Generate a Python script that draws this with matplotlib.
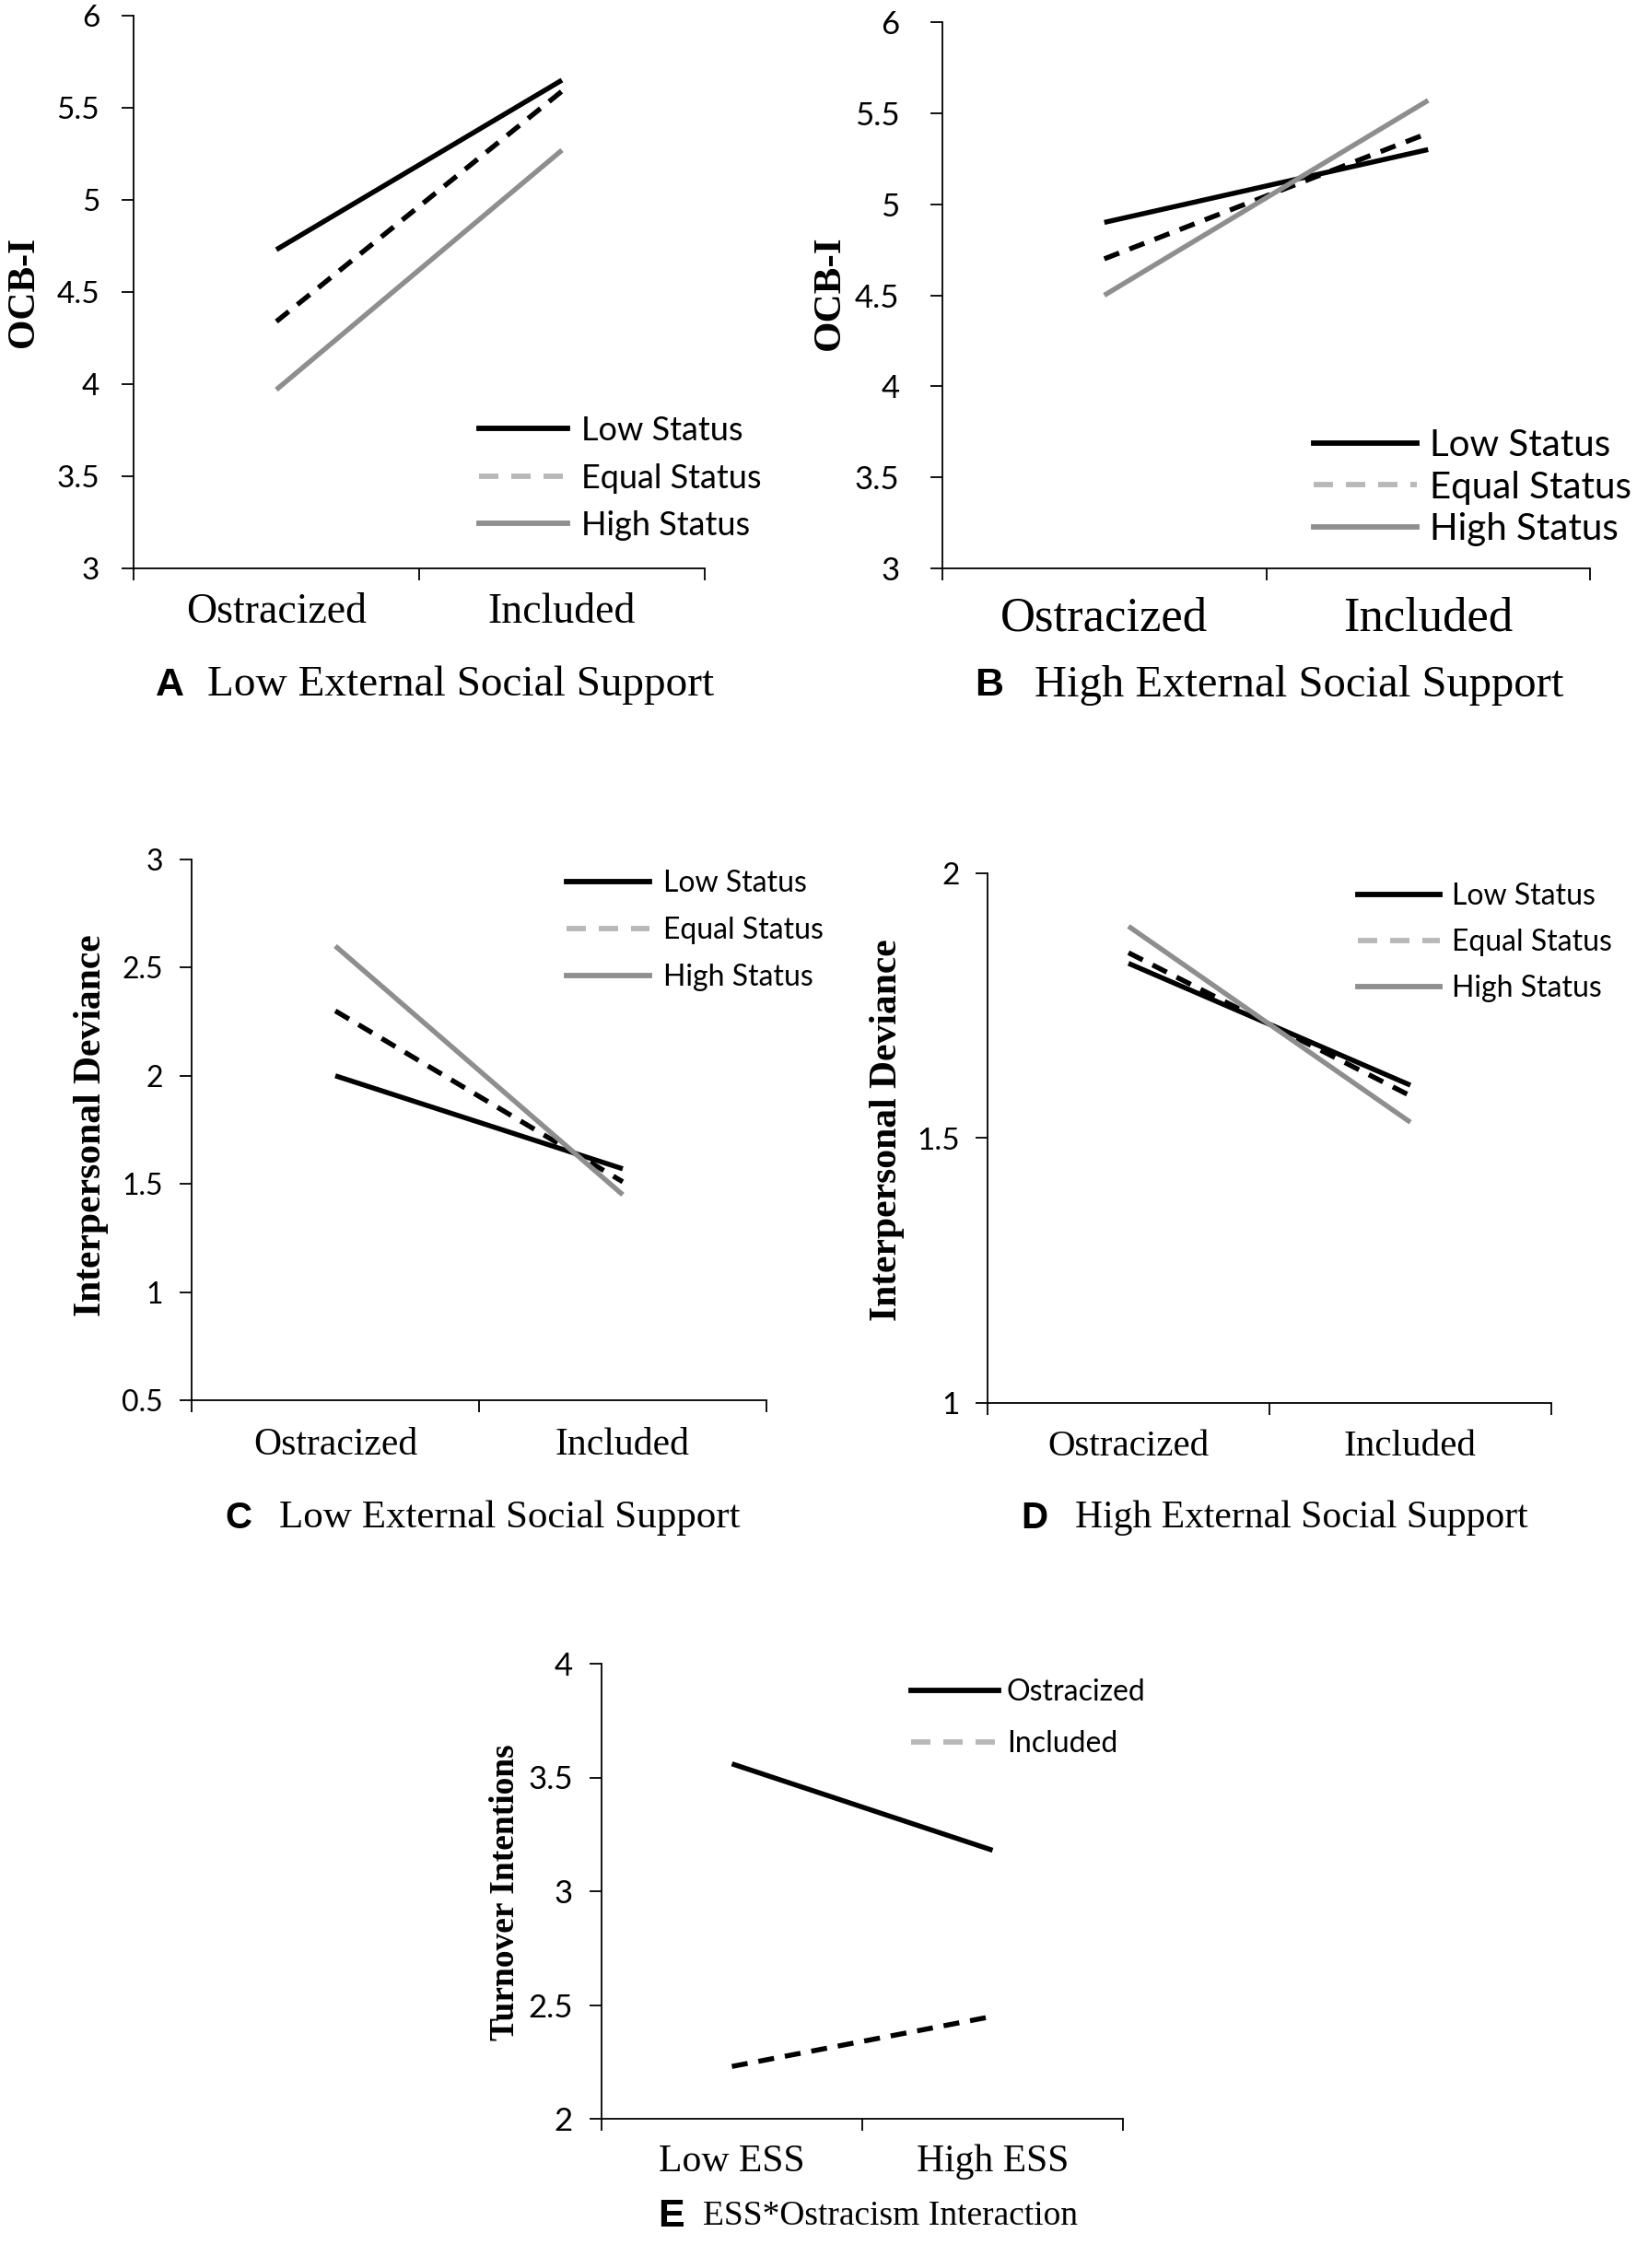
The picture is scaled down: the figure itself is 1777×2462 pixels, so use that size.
import matplotlib
matplotlib.use("Agg")
import matplotlib.pyplot as plt
from matplotlib.lines import Line2D

# values
cond_labels = ['Ostracized', 'Included']
ess_labels = ['Low ESS', 'High ESS']
status_names = ['Low Status', 'Equal Status', 'High Status']
ostr_names = ['Ostracized', 'Included']

a_low = [4.73, 5.65]
a_equal = [4.34, 5.59]
a_high = [3.97, 5.27]

b_low = [4.90, 5.30]
b_equal = [4.70, 5.39]
b_high = [4.50, 5.57]

c_low = [2.00, 1.57]
c_equal = [2.30, 1.51]
c_high = [2.60, 1.45]

d_low = [1.83, 1.60]
d_equal = [1.85, 1.58]
d_high = [1.90, 1.53]

e_ostracized = [3.56, 3.18]
e_included = [2.23, 2.45]

W, H = 1777, 2462
fig = plt.figure(figsize=(W / 100, H / 100), dpi=100)

SERIF = 'Liberation Serif'
SANS = 'Lato'
ARIAL = 'Liberation Sans'
GRAY = '#8e8e8e'
LIGHT = '#b8b8b8'
LW = 3.9


def fx(px):
    return px / W


def fy(py):
    return 1 - py / H


# plot styles and legend styles (legend shows the dashed line in light grey)
line_styles = [dict(color='black', ls='-'),
               dict(color='black', ls=(0, (3.2, 2.2))),
               dict(color=GRAY, ls='-')]
legend_styles = [dict(color='black', ls='-'),
                 dict(color=LIGHT, ls=(0, (3.6, 2.4))),
                 dict(color=GRAY, ls='-')]


def panel(box, xlabels, series, names, ylim, yticks, ylabel, ylab_xy,
          sizes, pads, legend, letter, title, title_xy):
    l, r, t, b = box
    ax = fig.add_axes([fx(l), fy(b), fx(r - l), (b - t) / H])
    x = range(len(xlabels))
    for vals, st in zip(series, line_styles):
        ax.plot(x, vals, lw=LW, solid_capstyle='butt', dash_capstyle='butt', **st)
    ax.set_xlim(-0.5, 1.5)
    ax.set_ylim(*ylim)
    ax.set_yticks(yticks)
    ax.set_yticklabels([f'{v:g}' for v in yticks], fontfamily=SANS,
                       fontsize=sizes['ytick'])
    ax.set_xticks([-0.5, 0.5, 1.5])
    ax.set_xticklabels([])
    ax.set_xticks([0, 1], minor=True)
    ax.set_xticklabels(xlabels, minor=True, fontfamily=SERIF,
                       fontsize=sizes['xtick'])
    ax.tick_params(axis='x', which='minor', length=0, pad=pads['x'])
    ax.tick_params(axis='x', which='major', length=9.5, width=1.3, direction='out')
    ax.tick_params(axis='y', length=9.5, width=1.3, direction='out', pad=pads['y'])
    for s in ['top', 'right']:
        ax.spines[s].set_visible(False)
    for s in ['left', 'bottom']:
        ax.spines[s].set_linewidth(1.3)
    ax.set_ylabel(ylabel, fontfamily=SERIF, fontweight='bold',
                  fontsize=sizes['ylabel'])
    ax.yaxis.set_label_coords((ylab_xy[0] - l) / (r - l), (b - ylab_xy[1]) / (b - t))
    ax.yaxis.label.set_va('center')

    handles = [Line2D([], [], lw=4.2, **st) for st in legend_styles[:len(names)]]
    hx, hy, hlen, gap, spacing = legend
    fs_px = sizes['legend'] * 100 / 72
    ax.legend(handles, names, loc='center left', bbox_to_anchor=(fx(hx), fy(hy)),
              bbox_transform=fig.transFigure, frameon=False, borderpad=0,
              borderaxespad=0, handlelength=hlen / fs_px, handletextpad=gap / fs_px,
              labelspacing=spacing, prop=dict(family=SANS, size=sizes['legend']))

    fig.text(fx(title_xy[0]), fy(title_xy[2]), letter, family=ARIAL, weight='bold',
             fontsize=sizes['letter'], ha='center', va='center')
    fig.text(fx(title_xy[1]), fy(title_xy[2]), title, family=SERIF,
             fontsize=sizes['title'], ha='left', va='center')
    return ax


panel((145, 765, 17, 617), cond_labels, [a_low, a_equal, a_high], status_names,
      (3, 6), [3, 3.5, 4, 4.5, 5, 5.5, 6], 'OCB-I', (26, 317),
      dict(ytick=24, xtick=33, ylabel=30, legend=26, letter=31, title=34),
      dict(x=19, y=17), (520, 519, 96, 15, 0.51),
      'A', 'Low External Social Support', (184, 225, 744))

panel((1023, 1726, 24, 617), cond_labels, [b_low, b_equal, b_high], status_names,
      (3, 6), [3, 3.5, 4, 4.5, 5, 5.5, 6], 'OCB-I', (901, 318),
      dict(ytick=25, xtick=38, ylabel=31, legend=29, letter=31, title=35),
      dict(x=22, y=24), (1426, 529, 112, 14, 0.22),
      'B', 'High External Social Support', (1074, 1123, 744))

panel((208, 832, 933, 1520), cond_labels, [c_low, c_equal, c_high], status_names,
      (0.5, 3), [0.5, 1, 1.5, 2, 2.5, 3], 'Interpersonal Deviance', (99, 1222),
      dict(ytick=23, xtick=30, ylabel=30, legend=23, letter=29, title=31),
      dict(x=21, y=13), (615, 1010, 90, 15, 0.65),
      'C', 'Low External Social Support', (259, 303, 1648))

panel((1072, 1684, 948, 1523), cond_labels, [d_low, d_equal, d_high], status_names,
      (1, 2), [1, 1.5, 2], 'Interpersonal Deviance', (963, 1227),
      dict(ytick=24, xtick=29.5, ylabel=30, legend=23, letter=29, title=30),
      dict(x=21, y=12), (1474, 1023, 89, 13, 0.62),
      'D', 'High External Social Support', (1123, 1167, 1648))

panel((653, 1219, 1806, 2300), ess_labels, [e_ostracized, e_included], ostr_names,
      (2, 4), [2, 2.5, 3, 3.5, 4], 'Turnover Intentions', (549, 2054),
      dict(ytick=25, xtick=30, ylabel=27, legend=23, letter=31, title=27),
      dict(x=20, y=13), (989, 1865, 95, 9, 0.83),
      'E', 'ESS*Ostracism Interaction', (728, 763, 2406))

fig.savefig('out.png', dpi=100)
